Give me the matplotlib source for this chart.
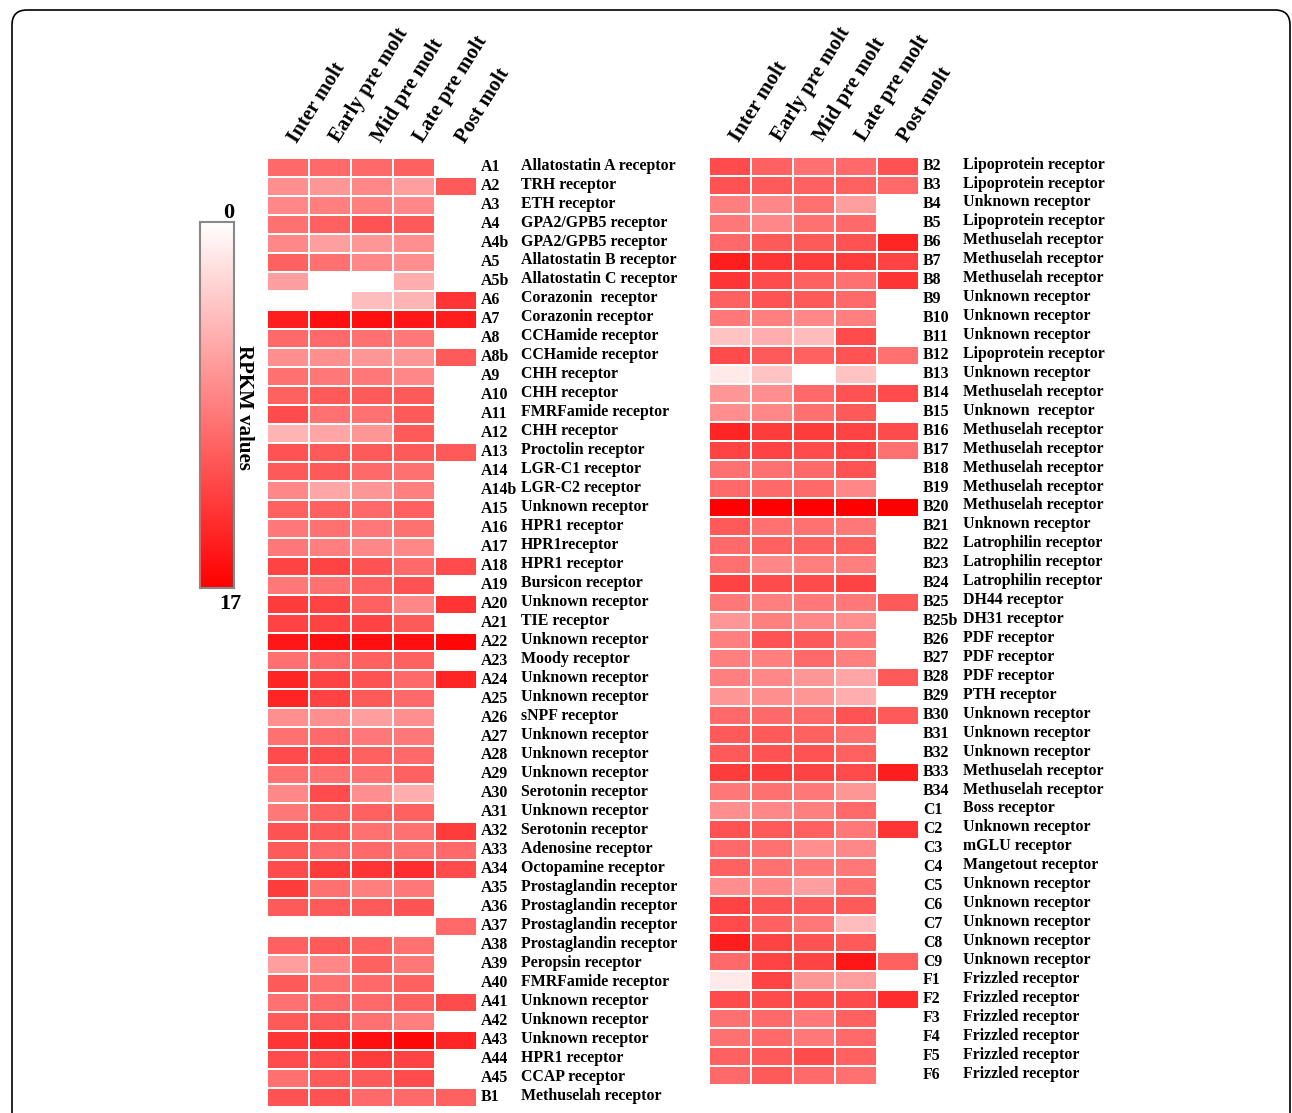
import numpy as np
import matplotlib.pyplot as plt
from matplotlib.colors import LinearSegmentedColormap
from matplotlib.patches import FancyBboxPatch

nan = np.nan

stages = ['Inter molt', 'Early pre molt', 'Mid pre molt', 'Late pre molt', 'Post molt']

# left block
left_ids = ['A1', 'A2', 'A3', 'A4', 'A4b', 'A5', 'A5b', 'A6', 'A7', 'A8', 'A8b', 'A9', 'A10',
            'A11', 'A12', 'A13', 'A14', 'A14b', 'A15', 'A16', 'A17', 'A18', 'A19', 'A20', 'A21',
            'A22', 'A23', 'A24', 'A25', 'A26', 'A27', 'A28', 'A29', 'A30', 'A31', 'A32', 'A33',
            'A34', 'A35', 'A36', 'A37', 'A38', 'A39', 'A40', 'A41', 'A42', 'A43', 'A44', 'A45', 'B1']
left_names = ['Allatostatin A receptor', 'TRH receptor', 'ETH receptor', 'GPA2/GPB5 receptor',
              'GPA2/GPB5 receptor', 'Allatostatin B receptor', 'Allatostatin C receptor',
              'Corazonin  receptor', 'Corazonin receptor', 'CCHamide receptor', 'CCHamide receptor',
              'CHH receptor', 'CHH receptor', 'FMRFamide receptor', 'CHH receptor',
              'Proctolin receptor', 'LGR-C1 receptor', 'LGR-C2 receptor', 'Unknown receptor',
              'HPR1 receptor', 'HPR1receptor', 'HPR1 receptor', 'Bursicon receptor',
              'Unknown receptor', 'TIE receptor', 'Unknown receptor', 'Moody receptor',
              'Unknown receptor', 'Unknown receptor', 'sNPF receptor', 'Unknown receptor',
              'Unknown receptor', 'Unknown receptor', 'Serotonin receptor', 'Unknown receptor',
              'Serotonin receptor', 'Adenosine receptor', 'Octopamine receptor',
              'Prostaglandin receptor', 'Prostaglandin receptor', 'Prostaglandin receptor',
              'Prostaglandin receptor', 'Peropsin receptor', 'FMRFamide receptor',
              'Unknown receptor', 'Unknown receptor', 'Unknown receptor', 'HPR1 receptor',
              'CCAP receptor', 'Methuselah receptor']
left_vals = [
    [10, 10, 10, 10.5, nan],
    [7.5, 7, 8, 6.5, 11],
    [8, 8.5, 8.5, 8, nan],
    [9.5, 10.5, 11.5, 11, nan],
    [8, 6.5, 7, 7.5, nan],
    [10.5, 9.5, 8, 7.5, nan],
    [6.5, nan, nan, 5.5, nan],
    [nan, nan, 4.5, 5, 13.5],
    [15, 16, 16, 15.5, 15],
    [10, 10, 9.5, 9, nan],
    [7.5, 7.5, 7, 7, 11],
    [9.5, 9, 9, 8, nan],
    [10.5, 11, 11, 11, nan],
    [12, 9.5, 9.5, 11, nan],
    [5, 6, 7, 11, nan],
    [11.5, 11, 11, 11, 11],
    [11, 11, 10, 9.5, nan],
    [8, 6, 7, 8.5, nan],
    [10.5, 10.5, 10, 10.5, nan],
    [9, 9.5, 9, 9.5, nan],
    [9, 8.5, 8, 8, nan],
    [12.5, 12.5, 11.5, 10, 12],
    [9, 9.5, 10.5, 11.5, nan],
    [13, 12.5, 10.5, 8, 13.5],
    [12.5, 12.5, 12.5, 11, nan],
    [15.5, 16, 16, 16, 16.5],
    [9.5, 10, 10.5, 10.5, nan],
    [14.5, 12.5, 11.5, 10, 14.5],
    [14.5, 12.5, 11, 10, nan],
    [7.5, 7.5, 6.5, 7.5, nan],
    [9.5, 10, 9, 9, nan],
    [12, 12, 10.5, 10, nan],
    [9.5, 9.5, 9.5, 10.5, nan],
    [8, 12, 7.5, 5.5, nan],
    [9, 10.5, 10.5, 10.5, nan],
    [11.5, 11, 9.5, 9.5, 13],
    [11, 10, 10, 9.5, 10],
    [12, 13, 13.5, 14, 12],
    [13, 9.5, 8.5, 9, nan],
    [11, 11, 11, 11.5, nan],
    [nan, nan, nan, nan, 10],
    [10.5, 11, 10.5, 9.5, nan],
    [6.5, 8, 10.5, 9, nan],
    [11, 9.5, 10, 10.5, nan],
    [9.5, 10, 10, 10.5, 12],
    [11, 11, 9.5, 8.5, nan],
    [13.5, 14.5, 16, 16.5, 14.5],
    [12, 12, 13, 12.5, nan],
    [9.5, 11, 11, 12, nan],
    [11.5, 11.5, 10, 10, 10.5],
]

# right block
right_ids = ['B2', 'B3', 'B4', 'B5', 'B6', 'B7', 'B8', 'B9', 'B10', 'B11', 'B12', 'B13', 'B14',
             'B15', 'B16', 'B17', 'B18', 'B19', 'B20', 'B21', 'B22', 'B23', 'B24', 'B25', 'B25b',
             'B26', 'B27', 'B28', 'B29', 'B30', 'B31', 'B32', 'B33', 'B34', 'C1', 'C2', 'C3',
             'C4', 'C5', 'C6', 'C7', 'C8', 'C9', 'F1', 'F2', 'F3', 'F4', 'F5', 'F6']
right_names = ['Lipoprotein receptor', 'Lipoprotein receptor', 'Unknown receptor',
               'Lipoprotein receptor', 'Methuselah receptor', 'Methuselah receptor',
               'Methuselah receptor', 'Unknown receptor', 'Unknown receptor', 'Unknown receptor',
               'Lipoprotein receptor', 'Unknown receptor', 'Methuselah receptor',
               'Unknown  receptor', 'Methuselah receptor', 'Methuselah receptor',
               'Methuselah receptor', 'Methuselah receptor', 'Methuselah receptor',
               'Unknown receptor', 'Latrophilin receptor', 'Latrophilin receptor',
               'Latrophilin receptor', 'DH44 receptor', 'DH31 receptor', 'PDF receptor',
               'PDF receptor', 'PDF receptor', 'PTH receptor', 'Unknown receptor',
               'Unknown receptor', 'Unknown receptor', 'Methuselah receptor',
               'Methuselah receptor', 'Boss receptor', 'Unknown receptor', 'mGLU receptor',
               'Mangetout receptor', 'Unknown receptor', 'Unknown receptor', 'Unknown receptor',
               'Unknown receptor', 'Unknown receptor', 'Frizzled receptor', 'Frizzled receptor',
               'Frizzled receptor', 'Frizzled receptor', 'Frizzled receptor', 'Frizzled receptor']
right_vals = [
    [12, 10.5, 9.5, 10, 11.5],
    [11.5, 11, 10.5, 10.5, 10],
    [8.5, 8, 9.5, 6.5, nan],
    [9, 8, 9.5, 10, nan],
    [10, 11, 11, 11.5, 14.5],
    [15, 13.5, 13, 13, 12.5],
    [13.5, 12, 10.5, 9.5, 13.5],
    [10.5, 11.5, 11, 10, nan],
    [9, 8.5, 8, 8.5, nan],
    [4, 5.5, 4.5, 12, nan],
    [12, 11, 10.5, 11.5, 9.5],
    [1.5, 4, nan, 4, nan],
    [7, 7.5, 10, 11.5, 12],
    [7.5, 8, 9.5, 11, nan],
    [14.5, 13, 13, 12.5, 12],
    [12.5, 12.5, 12, 12.5, 9.5],
    [9.5, 9.5, 10, 11.5, nan],
    [10, 10, 10, 8, nan],
    [17, 17, 17, 17, 17],
    [11, 9.5, 9.5, 9, nan],
    [10, 10.5, 10.5, 10.5, nan],
    [9.5, 8, 8.5, 8.5, nan],
    [12.5, 12, 12, 12.5, nan],
    [9, 8.5, 9, 9, 11],
    [7, 8.5, 8, 7.5, nan],
    [8.5, 11.5, 11, 9, nan],
    [8.5, 8.5, 10, 8.5, nan],
    [8.5, 8, 7, 6, 11],
    [7, 7.5, 7, 5.5, nan],
    [10, 10, 10, 11.5, 11],
    [11, 11, 10.5, 9.5, nan],
    [11, 11.5, 11.5, 10.5, nan],
    [13, 13, 12.5, 12, 15],
    [9, 9.5, 9, 7, nan],
    [7.5, 8, 8.5, 10, nan],
    [11.5, 11, 10.5, 9, 13.5],
    [10, 9.5, 7.5, 8, nan],
    [10.5, 9.5, 9, 9, nan],
    [7.5, 8, 6.5, 9.5, nan],
    [12.5, 11.5, 11, 11, nan],
    [12, 10.5, 9, 4.5, nan],
    [15, 12.5, 11.5, 11, nan],
    [10, 12.5, 12.5, 15.5, 10.5],
    [1.5, 12.5, 7, 6.5, nan],
    [12, 12, 12, 12, 14],
    [9.5, 10, 9, 10.5, nan],
    [9.5, 10, 9, 10, nan],
    [10.5, 11, 12, 10.5, nan],
    [10, 11, 10, 9.5, nan],
]

vmin, vmax = 0, 17

plt.rcParams['font.family'] = ['Liberation Serif', 'DejaVu Serif']
plt.rcParams['font.weight'] = 'bold'

cmap = LinearSegmentedColormap.from_list('wr', ['#ffffff', '#ff0000'])

W, H = 1292, 1113
fig = plt.figure(figsize=(W / 100, H / 100), dpi=100)

# outer frame
frame = FancyBboxPatch((0.12, -0.5), 12.78, 11.53, boxstyle='round,pad=0,rounding_size=0.15',
                       transform=fig.dpi_scale_trans, fill=False, edgecolor='black', linewidth=1.2)
fig.patches.append(frame)


def draw_block(x0px, top_px, bottom_px, ids, names, vals):
    ax = fig.add_axes([x0px / W, 1 - bottom_px / H, 210 / W, (bottom_px - top_px) / H])
    data = np.ma.masked_invalid(np.array(vals, dtype=float))
    ax.pcolormesh(data, cmap=cmap, vmin=vmin, vmax=vmax, edgecolors='white', linewidth=1.2)
    ax.set_xlim(0, 5)
    ax.set_ylim(len(vals), 0)
    ax.axis('off')
    for i, (rid, nm) in enumerate(zip(ids, names)):
        ax.text(5.1, i + 0.48, rid, fontsize=11.4, fontweight='bold', va='center', ha='left', clip_on=False)
        ax.text(6.05, i + 0.40, nm, fontsize=11.4, fontweight='bold', va='center', ha='left', clip_on=False)
    for j, s in enumerate(stages):
        ax.text(j + 0.72, -0.75, s, fontsize=15, fontweight='bold', rotation=58,
                rotation_mode='anchor', ha='left', va='baseline', clip_on=False)
    return ax


draw_block(267, 158, 1107, left_ids, left_names, left_vals)
draw_block(709, 157, 1085, right_ids, right_names, right_vals)

# colour bar
cax = fig.add_axes([200 / W, 1 - 588 / H, 34 / W, 366 / H])
grad = np.linspace(vmin, vmax, 256).reshape(-1, 1)
cax.imshow(grad, cmap=cmap, aspect='auto', extent=[0, 1, vmax, vmin], vmin=vmin, vmax=vmax)
cax.set_ylim(vmax, vmin)
cax.set_xticks([])
cax.set_yticks([])
for sp in cax.spines.values():
    sp.set_edgecolor('#888888')
    sp.set_linewidth(1.5)
cax.text(0.85, 0.05, '0', fontsize=16, fontweight='bold', ha='center', va='bottom')
cax.text(0.9, vmax + 0.3, '17', fontsize=16, fontweight='bold', ha='center', va='top')
cax.text(1.0, 8.6, 'RPKM values', fontsize=15, fontweight='bold', rotation=270,
         ha='left', va='center', clip_on=False)

fig.savefig('out.png', dpi=100)
